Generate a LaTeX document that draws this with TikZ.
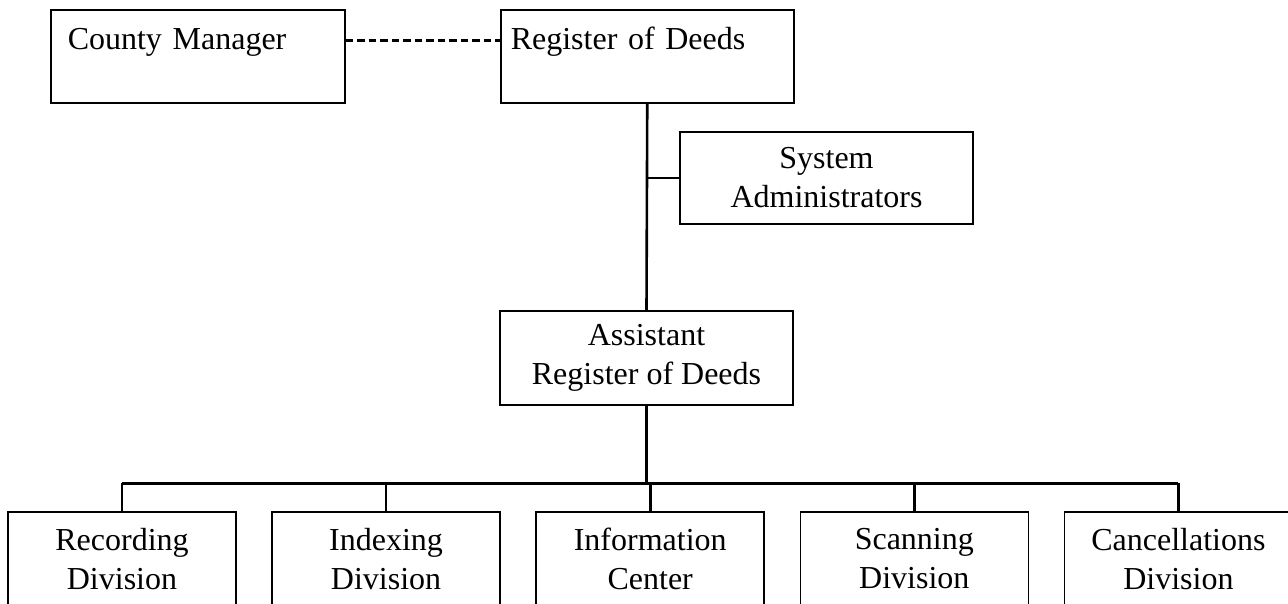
\documentclass[tikz,border=0pt]{standalone}
\usepackage{fontspec}
\setmainfont{Liberation Serif}
\usetikzlibrary{positioning}

\begin{document}
\begin{tikzpicture}[
  x=1pt, y=-1pt,
  font=\fontsize{32}{39}\selectfont,
  node distance=34.6pt,
  unit/.style   ={draw, line width=1.5pt, inner sep=0pt, align=center},
  headbox/.style={unit, anchor=north west, align=left, inner ysep=0pt,
                  text height=40pt, text depth=53pt},
  divbox/.style ={unit, minimum width=228pt, minimum height=94pt},
  link/.style   ={line width=2.6pt},
  bus/.style    ={line width=3pt},
  dotline/.style={line width=2.6pt, dash pattern=on 7.5pt off 4pt}
]
\useasboundingbox (0,0) rectangle (1288,603);
\clip (0,0) rectangle (1288,603);

\node[headbox, inner xsep=17pt, text width=260pt] (cm)  at (50,9)  {County Manager};
\node[headbox, inner xsep=10pt, text width=273pt] (rod) at (500,9) {Register of Deeds};

\node[unit, minimum width=293pt, minimum height=92pt] (sys) at (826.5,178) {System\\Administrators};
\node[unit, minimum width=293pt, minimum height=94pt] (ard) at (646.5,358) {Assistant\\Register of Deeds};

\node[divbox] (rec) at (122,559)  {Recording\\Division};
\node[divbox] (idx) [right=of rec] {Indexing\\Division};
\node[divbox] (inf) [right=of idx] {Information\\Center};
\node[divbox] (scn) [right=of inf] {Scanning\\Division};
\node[divbox] (can) [right=of scn] {Cancellations\\Division};

\coordinate (junc) at (646.5,483);

\draw[dotline] ([yshift=15.5pt]cm.east) -- ([yshift=15.5pt]cm.east -| rod.west);
\draw[link] (rod.south) -- (ard.north);
\draw[link] (sys.west) -- (sys.west -| rod.south);
\draw[link] (ard.south) -- (junc);

\draw[bus] (rec.north |- junc) -- (can.north |- junc);
\draw[link] (rec.north |- junc) -- (rec.north);
\draw[link] (idx.north |- junc) -- (idx.north);
\draw[link] (inf.north |- junc) -- (inf.north);
\draw[link] (scn.north |- junc) -- (scn.north);
\draw[link] (can.north |- junc) -- (can.north);
\end{tikzpicture}
\end{document}
